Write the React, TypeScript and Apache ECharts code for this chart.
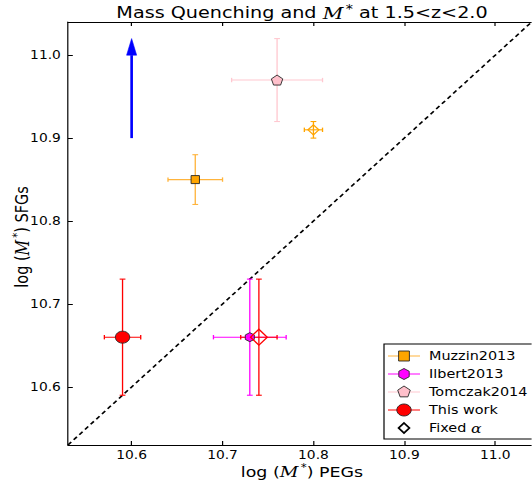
import React, { useEffect, useRef } from 'react';
import * as echarts from 'echarts';

// ---- data ----
const seriesNames = ['Muzzin2013', 'Ilbert2013', 'Tomczak2014', 'This work'];
const pointX = [10.67, 10.73, 10.76, 10.59];
const pointY = [10.85, 10.66, 10.97, 10.66];
const pointXErr = [0.03, 0.04, 0.05, 0.02];
const pointYErr = [0.03, 0.07, 0.05, 0.07];

const fixedLabel = 'Fixed';
const fixedX = [10.8, 10.74];
const fixedY = [10.91, 10.66];
const fixedXErr = [0.01, 0.02];
const fixedYErr = [0.01, 0.07];

const arrowX = 10.6;
const arrowY = [10.9, 11.0, 11.02]; // tail, head base, tip
const diagonal = [10.53, 11.04];
const axisMin = 10.53;
const axisMax = 11.04;
const tickValues = [10.6, 10.7, 10.8, 10.9, 11.0];

// ---- styles / layout ----
// The reference figure is horizontally stretched; the chart is drawn
// at a narrower width and stretched with a CSS scaleX.
const K = 1.2;
const W = 532;
const H = 482;
const markerColors = ['#FFA500', '#FF00FF', '#FFC0CB', '#FF0000'];
const errColors = ['#FFB43C', '#FF00FF', '#FFC8D0', '#FF0000'];
const fixedColors = ['#FFA500', '#FF0000'];
const FONT = 'DejaVu Sans';

const hexPath = 'path://M0,-1 L0.866,-0.5 L0.866,0.5 L0,1 L-0.866,0.5 L-0.866,-0.5 Z';
const pentPath = 'path://M0,-1 L0.951,-0.309 L0.588,0.809 L-0.588,0.809 L-0.951,-0.309 Z';
const markerSymbols = ['rect', hexPath, pentPath, 'circle'];
const markerSizes: any[] = [[7, 8], [7.5, 9], [9.5, 10], [12, 12]];

function errRender(colors: string[]) {
  return (params: any, api: any) => {
    const x = api.value(0);
    const y = api.value(1);
    const xe = api.value(2);
    const ye = api.value(3);
    const c = colors[params.dataIndex];
    const l = api.coord([x - xe, y]);
    const r = api.coord([x + xe, y]);
    const t = api.coord([x, y + ye]);
    const b = api.coord([x, y - ye]);
    const capV = 2.2;
    const capH = 2.4;
    const style = { stroke: c, lineWidth: 1.1 };
    const ln = (x1: number, y1: number, x2: number, y2: number) => ({
      type: 'line',
      shape: { x1, y1, x2, y2 },
      style,
    });
    return {
      type: 'group',
      children: [
        ln(l[0], l[1], r[0], r[1]),
        ln(t[0], t[1], b[0], b[1]),
        ln(l[0], l[1] - capV, l[0], l[1] + capV),
        ln(r[0], r[1] - capV, r[0], r[1] + capV),
        ln(t[0] - capH, t[1], t[0] + capH, t[1]),
        ln(b[0] - capH, b[1], b[0] + capH, b[1]),
      ],
    };
  };
}

function polyPoints(cx: number, cy: number, rx: number, ry: number, n: number, start: number) {
  const pts: number[][] = [];
  for (let i = 0; i < n; i++) {
    const a = start + (i * 2 * Math.PI) / n;
    pts.push([cx + rx * Math.cos(a), cy + ry * Math.sin(a)]);
  }
  return pts;
}

export default function App() {
  const ref = useRef<HTMLDivElement>(null);

  useEffect(() => {
    if (!ref.current) return;
    const chart = echarts.init(ref.current, null, { renderer: 'svg' });

    const axisCommon = {
      type: 'value',
      min: axisMin,
      max: axisMax,
      splitLine: { show: false },
      axisLine: { show: true, onZero: false, lineStyle: { color: '#000', width: 1 } },
      axisTick: { show: true, inside: true, length: 4, customValues: tickValues, lineStyle: { color: '#000' } },
    };

    const labelStyle = {
      customValues: tickValues,
      formatter: (v: number) => v.toFixed(1),
      color: '#000',
      fontSize: 11.5,
      fontFamily: FONT,
    };

    // legend (drawn as graphic, matplotlib style)
    const legX0 = 384 / K;
    const legY0 = 344;
    const rowY = (i: number) => 356 + i * 18;
    const lineX1 = 388 / K;
    const lineX2 = 420 / K;
    const mx = 404 / K;
    const textX = 429 / K;
    const legend: any[] = [
      {
        type: 'rect',
        shape: { x: legX0, y: legY0, width: 140, height: 95 },
        style: { fill: '#fff', stroke: '#000', lineWidth: 1 },
        z: 100,
      },
    ];
    seriesNames.forEach((name, i) => {
      const y = rowY(i);
      legend.push({
        type: 'line',
        shape: { x1: lineX1, y1: y, x2: lineX2, y2: y },
        style: { stroke: errColors[i], lineWidth: 1.1 },
        z: 101,
      });
      const ms = { fill: markerColors[i], stroke: '#222', lineWidth: 0.8 };
      let m: any;
      if (i === 0) m = { type: 'rect', shape: { x: mx - 4.5, y: y - 5, width: 9, height: 10 }, style: ms };
      else if (i === 1) m = { type: 'polygon', shape: { points: polyPoints(mx, y, 5, 5.5, 6, -Math.PI / 2) }, style: ms };
      else if (i === 2) m = { type: 'polygon', shape: { points: polyPoints(mx, y, 5.5, 6, 5, -Math.PI / 2) }, style: ms };
      else m = { type: 'circle', shape: { cx: mx, cy: y, r: 6 }, style: ms };
      m.z = 102;
      legend.push(m);
      legend.push({
        type: 'text',
        x: textX,
        y,
        style: { text: name, fontSize: 12, fontFamily: FONT, fill: '#000', verticalAlign: 'middle' },
        z: 102,
      });
    });
    const fy = rowY(4);
    legend.push({
      type: 'polygon',
      shape: { points: [[mx, fy - 5], [mx + 4.5, fy], [mx, fy + 5], [mx - 4.5, fy]] },
      style: { fill: '#fff', stroke: '#000', lineWidth: 1.6 },
      z: 102,
    });
    legend.push({
      type: 'text',
      x: textX,
      y: fy,
      style: {
        text: fixedLabel + ' {a|α}',
        fontSize: 12,
        fontFamily: FONT,
        fill: '#000',
        verticalAlign: 'middle',
        rich: { a: { fontSize: 13, fontFamily: 'DejaVu Serif', fontStyle: 'italic', fill: '#000' } },
      },
      z: 102,
    });

    const mathRich = (size: number) => ({
      m: { fontSize: size * 1.05, fontFamily: 'DejaVu Serif', fontStyle: 'italic', fill: '#000' },
      s: {
        fontSize: Math.round(size * 0.72),
        fontFamily: 'DejaVu Sans',
        fill: '#000',
        padding: [0, 0, Math.round(size * 0.55), 2],
      },
    });

    const texts: any[] = [
      {
        type: 'text',
        x: 302 / K,
        y: 13,
        style: {
          text: 'Mass Quenching and {m|M}{s|*} at 1.5<z<2.0',
          fontSize: 16,
          fontFamily: FONT,
          fill: '#000',
          align: 'center',
          verticalAlign: 'middle',
          rich: mathRich(16),
        },
      },
      {
        type: 'text',
        x: 302 / K,
        y: 472,
        style: {
          text: 'log ({m|M}{s|*}) PEGs',
          fontSize: 14.5,
          fontFamily: FONT,
          fill: '#000',
          align: 'center',
          verticalAlign: 'middle',
          rich: mathRich(14.5),
        },
      },
      {
        type: 'text',
        x: 22 / K,
        y: 237,
        rotation: Math.PI / 2,
        style: {
          text: 'log ({m|M}{s|*}) SFGs',
          fontSize: 14.5,
          fontFamily: FONT,
          fill: '#000',
          align: 'center',
          verticalAlign: 'middle',
          rich: mathRich(14.5),
        },
      },
    ];

    const markerSeries = seriesNames.map((name, i) => ({
      name,
      type: 'scatter',
      xAxisIndex: 0,
      yAxisIndex: 0,
      symbol: markerSymbols[i],
      symbolSize: markerSizes[i],
      itemStyle: { color: markerColors[i], borderColor: '#222', borderWidth: 0.8, opacity: 1 },
      data: [[pointX[i], pointY[i]]],
      z: 5 + i,
    }));

    const fixedSeries = fixedX.map((fx, i) => ({
      name: fixedLabel + i,
      type: 'scatter',
      xAxisIndex: 0,
      yAxisIndex: 0,
      symbol: 'diamond',
      symbolSize: i === 0 ? [9, 10] : [14, 16],
      itemStyle: { color: 'rgba(0,0,0,0)', borderColor: fixedColors[i], borderWidth: 1.2, opacity: 1 },
      data: [[fx, fixedY[i]]],
      z: 10,
    }));

    chart.setOption({
      animation: false,
      backgroundColor: '#fff',
      grid: { left: 68 / K, top: 22, width: 469 / K, height: 423, containLabel: false },
      xAxis: [
        { ...axisCommon, position: 'bottom', axisLabel: { ...labelStyle, margin: 4 } },
        { ...axisCommon, position: 'top', axisLabel: { show: false } },
      ],
      yAxis: [
        { ...axisCommon, position: 'left', axisLabel: { ...labelStyle, margin: 6 } },
      ],
      series: [
        {
          type: 'line',
          data: [[diagonal[0], diagonal[0]], [diagonal[1], diagonal[1]]],
          symbol: 'none',
          lineStyle: { color: '#000', width: 1.5, type: [4, 3] },
          z: 1,
        },
        {
          type: 'custom',
          data: [[arrowX, arrowY[0], arrowY[1], arrowY[2]]],
          encode: { x: 0, y: [1, 3] },
          renderItem: (params: any, api: any) => {
            const x = api.value(0);
            const p0 = api.coord([x, api.value(1)]);
            const p1 = api.coord([x, api.value(2)]);
            const p2 = api.coord([x, api.value(3)]);
            return {
              type: 'group',
              children: [
                { type: 'line', shape: { x1: p0[0], y1: p0[1], x2: p1[0], y2: p1[1] }, style: { stroke: '#0000FF', lineWidth: 2.2 } },
                {
                  type: 'polygon',
                  shape: { points: [[p1[0] - 4.2, p1[1]], [p1[0] + 4.2, p1[1]], [p2[0], p2[1]]] },
                  style: { fill: '#0000FF', stroke: '#0000FF', lineWidth: 0.5 },
                },
              ],
            };
          },
          z: 2,
        },
        {
          type: 'custom',
          data: pointX.map((x, i) => [x, pointY[i], pointXErr[i], pointYErr[i]]),
          encode: { x: 0, y: 1 },
          renderItem: errRender(errColors),
          z: 3,
        },
        {
          type: 'custom',
          data: fixedX.map((x, i) => [x, fixedY[i], fixedXErr[i], fixedYErr[i]]),
          encode: { x: 0, y: 1 },
          renderItem: errRender(fixedColors),
          z: 4,
        },
        ...markerSeries,
        ...fixedSeries,
      ],
      graphic: [...texts, ...legend],
    });

    return () => chart.dispose();
  }, []);

  return (
    <div
      style={{ position: 'absolute', left: 0, top: 0, width: W, height: H, overflow: 'hidden', background: '#fff' }}
    >
      <div
        ref={ref}
        style={{
          width: Math.floor(W / K),
          height: H,
          transform: `scaleX(${K})`,
          transformOrigin: '0 0',
        }}
      />
    </div>
  );
}
